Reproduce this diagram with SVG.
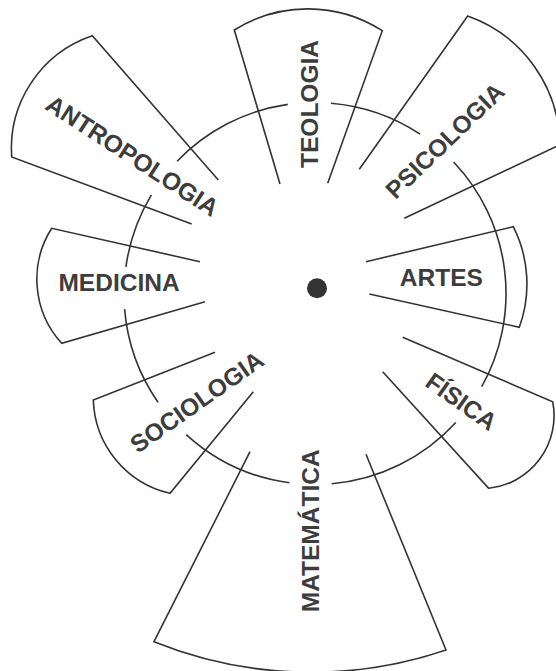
<svg xmlns="http://www.w3.org/2000/svg" width="556" height="671" viewBox="0 0 556 671">
  <style>
    .w { fill: none; stroke: #333; stroke-width: 1.6; stroke-linejoin: miter; }
    .ring { fill: none; stroke: #333; stroke-width: 1.6; }
    .t { font-family: "Liberation Sans", Arial, sans-serif; font-weight: bold; font-size: 24.5px; fill: #3d3d3d; text-anchor: middle; }
  </style>
  <rect width="556" height="671" fill="#fff"/>

  <g id="ring">
    <path class="ring" d="M 177.1,161.3 A 191 191 0 0 1 287.8,104.4"/>
    <path class="ring" d="M 331.0,103.2 A 191 191 0 0 1 420.1,134.1"/>
    <path class="ring" d="M 453.6,162.0 A 191 191 0 0 1 481.7,386.7"/>
    <path class="ring" d="M 455.8,422.5 A 191 191 0 0 1 331.7,483.8"/>
    <path class="ring" d="M 289.4,482.8 A 191 191 0 0 1 186.2,434.6"/>
    <path class="ring" d="M 158.0,402.2 A 191 191 0 0 1 124.6,309.1"/>
    <path class="ring" d="M 125.9,266.9 A 191 191 0 0 1 151.4,194.8"/>
    <circle cx="317" cy="288.3" r="10" fill="#333"/>
  </g>

  <g id="antropologia">
    <path class="w" d="M 191.7,224 L 11.7,157 A 119 119 0 0 1 92.3,35.7 L 218.3,180"/>
    <text class="t" transform="translate(132.5,155.5) rotate(33)" x="0" y="8.8">ANTROPOLOGIA</text>
  </g>

  <g id="teologia">
    <path class="w" d="M 280,184 L 234.3,30 A 138 138 0 0 1 382.3,30.7 L 327.7,183.3"/>
    <text class="t" transform="translate(309.3,104) rotate(-90)" x="0" y="8.8">TEOLOGIA</text>
  </g>

  <g id="psicologia">
    <path class="w" d="M 359.3,169.3 L 467.7,16 A 138 138 0 0 1 559.8,144.9 L 404.3,218.3"/>
    <text class="t" transform="translate(444.7,140.5) rotate(-44)" x="0" y="8.8">PSICOLOGIA</text>
  </g>

  <g id="artes">
    <path class="w" d="M 366,261.7 L 513.3,226.7 A 127 127 0 0 1 519.3,327.3 L 369.3,294"/>
    <text class="t" transform="translate(441.3,277.5)" x="0" y="8.8">ARTES</text>
  </g>

  <g id="fisica">
    <path class="w" d="M 402.7,337.3 L 552.7,401.7 A 73 73 0 0 1 488.7,488.3 L 382.7,371.7"/>
    <text class="t" transform="translate(461.5,401.3) rotate(35.4)" x="0" y="8.8">FÍSICA</text>
  </g>

  <g id="matematica">
    <path class="w" d="M 366,454.3 L 446,650 A 420 420 0 0 1 154,641.7 L 250,451.7"/>
    <text class="t" transform="translate(310,530.8) rotate(-90)" x="0" y="8.8">MATEMÁTICA</text>
  </g>

  <g id="sociologia">
    <path class="w" d="M 253.3,391.7 L 170,493.3 A 99 99 0 0 1 93.3,400 L 215,352.3"/>
    <text class="t" transform="translate(196.7,401.7) rotate(-35.2)" x="0" y="8.8">SOCIOLOGIA</text>
  </g>

  <g id="medicina">
    <path class="w" d="M 205,301.7 L 61.7,343.3 A 95 95 0 0 1 51.7,228.3 L 200,261.7"/>
    <text class="t" transform="translate(119,282.5)" x="0" y="8.8">MEDICINA</text>
  </g>

  <g id="connectors"></g>
</svg>
